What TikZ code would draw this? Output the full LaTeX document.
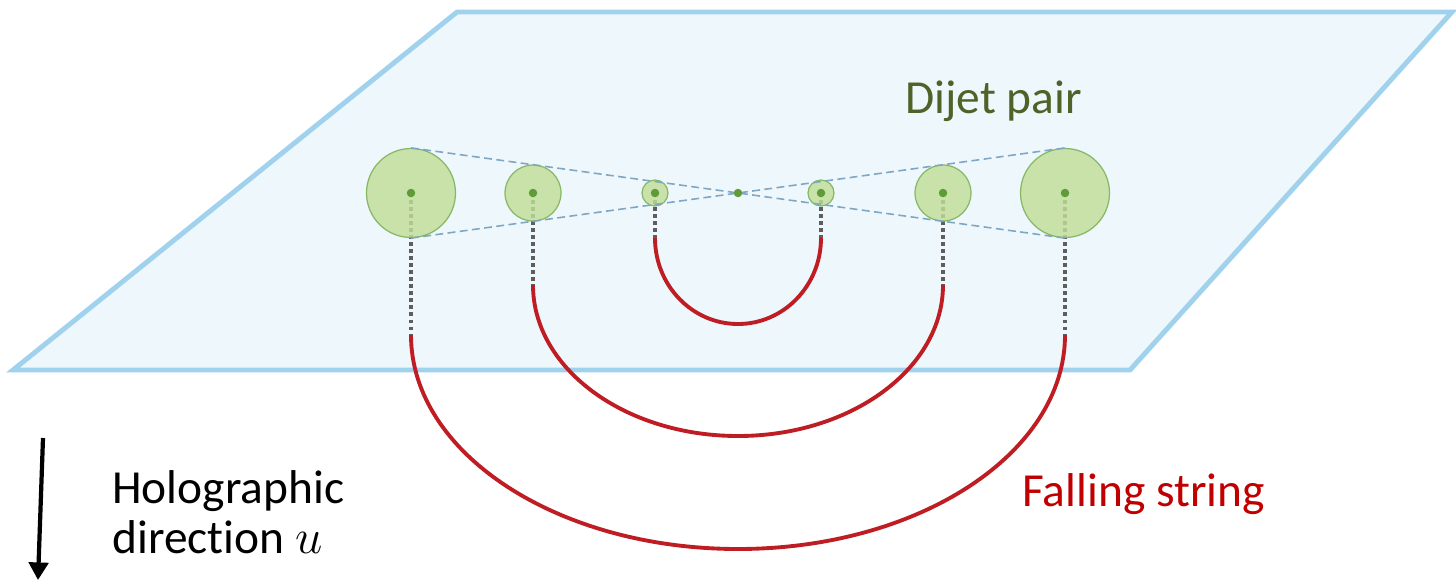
\documentclass[tikz,border=0pt]{standalone}
\usepackage{fontspec}
\setmainfont[Ligatures=NoCommon]{Carlito}
\usetikzlibrary{arrows.meta}
\definecolor{planefill}{HTML}{EEF7FC}
\definecolor{planeedge}{HTML}{A0D2EE}
\definecolor{blobfill}{HTML}{C2DE98}
\definecolor{blobedge}{HTML}{86B866}
\definecolor{dotgreen}{HTML}{5E9C38}
\definecolor{dashblue}{HTML}{7FA6C2}
\definecolor{stringred}{HTML}{BE1E23}
\definecolor{textred}{HTML}{C00000}
\definecolor{textgreen}{HTML}{4F6228}
\definecolor{dotgray}{HTML}{5E5E5E}
\tikzset{
  plane/.style={draw=planeedge, fill=planefill, line width=2.8pt, line join=miter},
  blob/.style={circle, draw=blobedge, fill=blobfill, fill opacity=0.82, draw opacity=1, line width=0.7pt, inner sep=0pt},
  cdot/.style={circle, fill=dotgreen, inner sep=0pt, minimum size=0.17cm},
  dashline/.style={draw=dashblue, line width=0.9pt, dash pattern=on 4.5pt off 2.5pt},
  dotline/.style={draw=dotgray, line width=1.9pt, dash pattern=on 2pt off 2pt},
  stringline/.style={draw=stringred, line width=2.2pt},
  lbl/.style={font=\fontsize{27}{28.4}\selectfont, inner sep=0pt, anchor=base west}
}
\begin{document}
\begin{tikzpicture}[x=0.02cm,y=0.02cm]
\useasboundingbox (0,0) rectangle (1456,583);
% plane
\draw[plane] (13,213) -- (1130,213) -- (1452,571) -- (457,571) -- cycle;
% centres and string endpoints
\coordinate (cL3) at (411,390);
\coordinate (cL2) at (533,390);
\coordinate (cL1) at (655,390);
\coordinate (cR1) at (821,390);
\coordinate (cR2) at (943,390);
\coordinate (cR3) at (1065,390);
\coordinate (aL3) at (411,248);
\coordinate (aL2) at (533,298);
\coordinate (aL1) at (655,345);
\coordinate (aR1) at (821,345);
\coordinate (aR2) at (943,298);
\coordinate (aR3) at (1065,248);
% dotted projections
\foreach \s in {L3,L2,L1,R1,R2,R3} \draw[dotline] (c\s) -- (a\s);
% blobs
\node[blob, minimum size=1.78cm] (L3) at (cL3) {};
\node[blob, minimum size=1.12cm] (L2) at (cL2) {};
\node[blob, minimum size=0.52cm] (L1) at (cL1) {};
\node[blob, minimum size=0.52cm] (R1) at (cR1) {};
\node[blob, minimum size=1.12cm] (R2) at (cR2) {};
\node[blob, minimum size=1.78cm] (R3) at (cR3) {};
% dashed cone lines
\draw[dashline] (L3.north) -- (R3.south);
\draw[dashline] (L3.south) -- (R3.north);
% centre dots
\foreach \s in {L3,L2,L1,R1,R2,R3} \node[cdot] (d\s) at (c\s) {};
\node[cdot] (mid) at (738,390) {};
% falling strings
\draw[stringline] (aL1) arc[start angle=180, end angle=360, x radius=83, y radius=86];
\draw[stringline] (aL2) arc[start angle=180, end angle=360, x radius=205, y radius=151];
\draw[stringline] (aL3) arc[start angle=180, end angle=360, x radius=327, y radius=214];
% labels
\node[lbl, text=textgreen] (dijet) at (905,470) {Dijet pair};
\node[lbl, text=textred] (falling) at (1022,77) {Falling string};
\node[lbl] (holo1) at (112,80) {Holographic};
\node[lbl] (holo2) at (112,30) {direction \scalebox{1.12}{$u$}};
% holographic arrow
\coordinate (arrtop) at (43,145);
\coordinate (arrbot) at (38,3);
\draw[line width=2.4pt, -{Triangle[length=10pt,width=11pt]}] (arrtop) -- (arrbot);
\end{tikzpicture}
\end{document}
